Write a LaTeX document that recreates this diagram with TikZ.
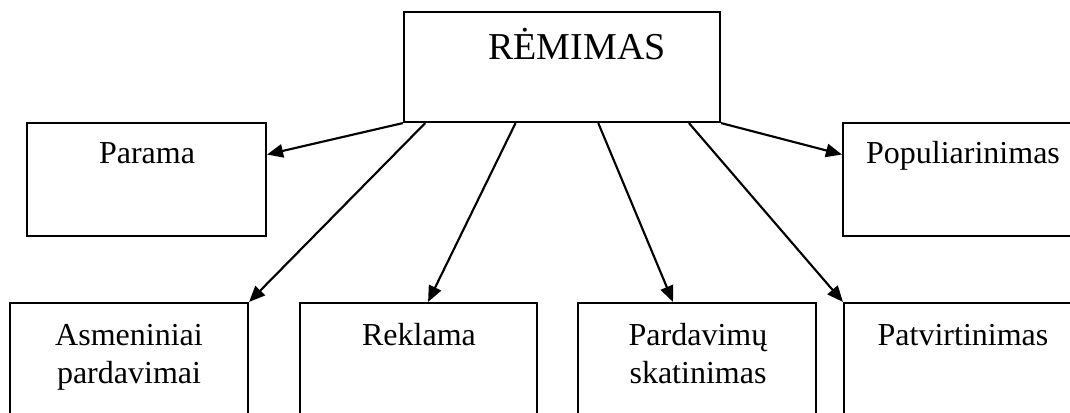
\documentclass[tikz,border=0pt]{standalone}
\usepackage{fontspec}
\setmainfont{Liberation Serif}
\usetikzlibrary{fit,calc,arrows.meta}
\begin{document}
\begin{tikzpicture}[x=0.75pt,y=-0.75pt,
  box/.style={draw=black,line width=1.6pt,inner sep=0pt,fill=none},
  lbl/.style={anchor=base,inner sep=0pt,align=center,font=\fontsize{24}{28.5}\selectfont},
  conn/.style={line width=1.6pt,-{Triangle[length=12pt,width=10pt]}}]
\useasboundingbox (0,0) rectangle (1070,412);
\clip (0,0) rectangle (1070,412);
\node[box,fit={(404,12) (720,122)}] (rem) {};
\node[box,fit={(27,123) (266,236)}] (parama) {};
\node[box,fit={(843,123) (1090,236)}] (popul) {};
\node[box,fit={(10,303) (248,430)}] (asm) {};
\node[box,fit={(300,303) (537,430)}] (rek) {};
\node[box,fit={(578,303) (816,430)}] (pard) {};
\node[box,fit={(844,303) (1090,430)}] (patv) {};
\node[lbl,font=\fontsize{28.5}{34}\selectfont] (tRem) at (577,59) {RĖMIMAS};
\node[lbl] (tParama) at (147,163) {Parama};
\node[lbl] (tPopul) at (963,163) {Populiarinimas};
\node[lbl] (tAsm) at (129,383) {Asmeniniai\\pardavimai};
\node[lbl] (tRek) at (419,345) {Reklama};
\node[lbl] (tPard) at (698,383) {Pardavimų\\skatinimas};
\node[lbl] (tPatv) at (963,345) {Patvirtinimas};
\draw[conn] (rem.south west) -- ($(parama.north east)!0.283!(parama.south east)$);
\draw[conn] ($(rem.south west)!0.07!(rem.south east)$) -- (asm.north east);
\draw[conn] ($(rem.south west)!0.354!(rem.south east)$) -- ($(rek.north west)!0.54!(rek.north east)$);
\draw[conn] ($(rem.south west)!0.614!(rem.south east)$) -- ($(pard.north west)!0.40!(pard.north east)$);
\draw[conn] ($(rem.south west)!0.899!(rem.south east)$) -- (patv.north west);
\draw[conn] (rem.south east) -- ($(popul.north west)!0.283!(popul.south west)$);
\end{tikzpicture}
\end{document}
